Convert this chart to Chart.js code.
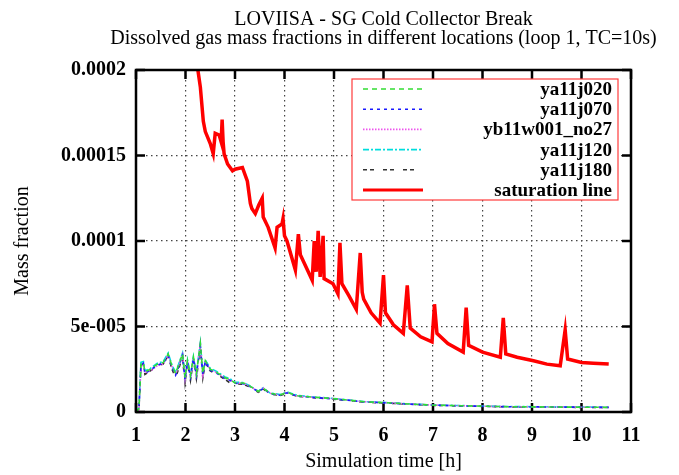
<!DOCTYPE html>
<html>
<head>
<meta charset="utf-8">
<script src="https://cdn.jsdelivr.net/npm/chart.js@4.4.1/dist/chart.umd.min.js"></script>
<style>
  html, body { margin: 0; padding: 0; background: #fff; }
  #wrap { width: 679px; height: 475px; }
</style>
</head>
<body>
<div id="wrap"><canvas id="chart" width="679" height="475"></canvas></div>
<script>
// Titles
const TITLE_LINES = [
  "LOVIISA - SG Cold Collector Break",
  "Dissolved gas mass fractions in different locations (loop 1, TC=10s)",
];
const X_TITLE = "Simulation time [h]";
const Y_TITLE = "Mass fraction";

// Tick labels
const xTicks = [1, 2, 3, 4, 5, 6, 7, 8, 9, 10, 11];
const yTickValues = [0, 0.00005, 0.0001, 0.00015, 0.0002];
const yTickLabels = ["0", "5e-005", "0.0001", "0.00015", "0.0002"];

// Dissolved gas series share one time axis [h]
const timeMass = [
  1.00, 1.06, 1.10, 1.15, 1.18, 1.29, 1.43, 1.55, 1.65, 1.72, 1.80, 1.94, 1.99,
  2.04, 2.10, 2.16, 2.22, 2.30, 2.35, 2.40, 2.50, 2.64, 2.80, 2.90, 3.00, 3.17,
  3.31, 3.47, 3.57, 3.70, 3.91, 4.05, 4.26, 4.58, 4.92, 5.27, 5.60, 6.00, 6.50,
  7.00, 7.50, 8.00, 8.50, 9.00, 9.50, 10.00, 10.55,
];
const ya11j020 = [
  0, 0.0000020, 0.0000280, 0.0000290, 0.0000235, 0.0000250, 0.0000280, 0.0000290,
  0.0000340, 0.0000275, 0.0000225, 0.0000340, 0.0000200, 0.0000300, 0.0000215,
  0.0000320, 0.0000225, 0.0000400, 0.0000225, 0.0000300, 0.0000250, 0.0000230,
  0.0000200, 0.0000190, 0.0000170, 0.0000170, 0.0000150, 0.0000120, 0.0000140,
  0.0000110, 0.0000100, 0.0000115, 0.0000095, 0.0000087, 0.0000080, 0.0000070,
  0.0000060, 0.0000055, 0.0000047, 0.0000040, 0.0000037, 0.0000034, 0.0000031,
  0.0000030, 0.0000029, 0.0000028, 0.0000027,
];
const ya11j070 = [
  0, 0.0000030, 0.0000270, 0.0000285, 0.0000225, 0.0000245, 0.0000275, 0.0000285,
  0.0000330, 0.0000265, 0.0000215, 0.0000330, 0.0000190, 0.0000290, 0.0000205,
  0.0000310, 0.0000215, 0.0000390, 0.0000215, 0.0000295, 0.0000245, 0.0000225,
  0.0000195, 0.0000185, 0.0000168, 0.0000165, 0.0000148, 0.0000118, 0.0000138,
  0.0000108, 0.0000098, 0.0000112, 0.0000093, 0.0000085, 0.0000078, 0.0000069,
  0.0000059, 0.0000054, 0.0000046, 0.0000040, 0.0000036, 0.0000033, 0.0000031,
  0.0000030, 0.0000029, 0.0000028, 0.0000027,
];
const yb11w001_no27 = [
  0, 0.0000010, 0.0000260, 0.0000280, 0.0000230, 0.0000240, 0.0000270, 0.0000280,
  0.0000335, 0.0000270, 0.0000220, 0.0000335, 0.0000195, 0.0000295, 0.0000210,
  0.0000315, 0.0000220, 0.0000395, 0.0000220, 0.0000298, 0.0000248, 0.0000228,
  0.0000198, 0.0000188, 0.0000170, 0.0000168, 0.0000150, 0.0000120, 0.0000140,
  0.0000110, 0.0000100, 0.0000114, 0.0000094, 0.0000086, 0.0000079, 0.0000070,
  0.0000060, 0.0000055, 0.0000047, 0.0000041, 0.0000037, 0.0000034, 0.0000031,
  0.0000030, 0.0000029, 0.0000028, 0.0000027,
];
const ya11j120 = [
  0, 0.0000025, 0.0000290, 0.0000295, 0.0000240, 0.0000255, 0.0000285, 0.0000295,
  0.0000345, 0.0000280, 0.0000230, 0.0000345, 0.0000205, 0.0000305, 0.0000220,
  0.0000325, 0.0000230, 0.0000405, 0.0000230, 0.0000305, 0.0000255, 0.0000235,
  0.0000205, 0.0000195, 0.0000175, 0.0000172, 0.0000152, 0.0000122, 0.0000142,
  0.0000112, 0.0000102, 0.0000117, 0.0000097, 0.0000088, 0.0000081, 0.0000071,
  0.0000061, 0.0000056, 0.0000048, 0.0000041, 0.0000038, 0.0000035, 0.0000032,
  0.0000031, 0.0000030, 0.0000029, 0.0000028,
];
const ya11j180 = [
  0, 0.0000015, 0.0000275, 0.0000280, 0.0000220, 0.0000240, 0.0000270, 0.0000280,
  0.0000330, 0.0000255, 0.0000200, 0.0000320, 0.0000170, 0.0000285, 0.0000185,
  0.0000305, 0.0000195, 0.0000380, 0.0000200, 0.0000290, 0.0000240, 0.0000220,
  0.0000190, 0.0000170, 0.0000165, 0.0000162, 0.0000145, 0.0000115, 0.0000135,
  0.0000105, 0.0000097, 0.0000110, 0.0000092, 0.0000084, 0.0000077, 0.0000068,
  0.0000058, 0.0000053, 0.0000046, 0.0000039, 0.0000036, 0.0000033, 0.0000030,
  0.0000029, 0.0000028, 0.0000027, 0.0000026,
];

// Saturation line
const timeSat = [
  2.20, 2.30, 2.36, 2.40, 2.50, 2.56, 2.60, 2.68, 2.72, 2.74, 2.76, 2.78, 2.85,
  2.95, 3.00, 3.15, 3.25, 3.31, 3.34, 3.41, 3.48, 3.55, 3.57, 3.67, 3.81, 3.85,
  3.95, 3.97, 4.00, 4.05, 4.22, 4.28, 4.32, 4.56, 4.60, 4.64, 4.68, 4.72, 4.78,
  4.80, 4.98, 5.08, 5.12, 5.16, 5.30, 5.45, 5.53, 5.57, 5.60, 5.75, 5.93, 6.00,
  6.04, 6.20, 6.40, 6.48, 6.54, 6.75, 6.98, 7.03, 7.08, 7.30, 7.61, 7.67, 7.72,
  8.00, 8.36, 8.42, 8.47, 8.70, 9.03, 9.30, 9.57, 9.67, 9.72, 10.00, 10.24, 10.55,
];
const saturation = [
  0.000210, 0.000190, 0.000170, 0.000164, 0.000157, 0.000151, 0.000163, 0.000162,
  0.000158, 0.000171, 0.000158, 0.000151, 0.000145, 0.000141, 0.000142, 0.000143,
  0.000135, 0.000122, 0.000119, 0.000116, 0.000121, 0.000125, 0.000114, 0.000108,
  0.000096, 0.000108, 0.000110, 0.000113, 0.000103, 0.000100, 0.000083, 0.000104,
  0.000092, 0.000077, 0.000100, 0.000082, 0.000106, 0.000079, 0.000103, 0.000078,
  0.000075, 0.000069, 0.000099, 0.000075, 0.000068, 0.000060, 0.000093, 0.000070,
  0.000066, 0.000058, 0.000052, 0.000080, 0.000058, 0.000051, 0.000046, 0.000074,
  0.000049, 0.000044, 0.000041, 0.000063, 0.000046, 0.000040, 0.000035, 0.000061,
  0.000039, 0.000035, 0.000032, 0.000055, 0.000034, 0.000032, 0.000030, 0.000028,
  0.000027, 0.000048, 0.000031, 0.000029, 0.0000285, 0.000028,
];

const FONT = "'Liberation Serif', 'DejaVu Serif', serif";

function toPoints(xs, ys) {
  return xs.map((x, i) => ({ x: x, y: ys[i] }));
}

function massSet(label, values, color, dash, width) {
  return {
    label: label,
    data: toPoints(timeMass, values),
    borderColor: color,
    borderWidth: width,
    borderDash: dash,
    pointRadius: 0,
    fill: false,
    tension: 0,
  };
}

const datasets = [
  massSet("ya11j020", ya11j020, "#33dd33", [5, 4], 1.6),
  massSet("ya11j070", ya11j070, "#1a1aff", [3, 4], 1.6),
  massSet("yb11w001_no27", yb11w001_no27, "#ee55ee", [1.5, 1.5], 1.6),
  massSet("ya11j120", ya11j120, "#00dddd", [6, 2, 2, 2], 1.6),
  massSet("ya11j180", ya11j180, "#333333", [4, 3, 4, 9], 1.6),
  {
    label: "saturation line",
    data: toPoints(timeSat, saturation),
    borderColor: "#ff0000",
    borderWidth: 3.5,
    pointRadius: 0,
    fill: false,
    tension: 0,
  },
];

// gnuplot-style title, frame, inward ticks and boxed key
const framePlugin = {
  id: "frame",
  beforeDatasetsDraw(chart) {
    const { ctx, chartArea: a, scales } = chart;
    ctx.save();
    ctx.strokeStyle = "#000";
    ctx.lineWidth = 2.5;
    const tl = 9;
    ctx.beginPath();
    xTicks.forEach((v) => {
      const px = scales.x.getPixelForValue(v);
      ctx.moveTo(px, a.bottom);
      ctx.lineTo(px, a.bottom - tl);
      ctx.moveTo(px, a.top);
      ctx.lineTo(px, a.top + tl);
    });
    yTickValues.forEach((v) => {
      const py = scales.y.getPixelForValue(v);
      ctx.moveTo(a.left, py);
      ctx.lineTo(a.left + tl, py);
      ctx.moveTo(a.right, py);
      ctx.lineTo(a.right - tl, py);
    });
    ctx.stroke();

    // two-line title centred over the plot area
    ctx.fillStyle = "#000";
    ctx.font = "20px " + FONT;
    ctx.textAlign = "center";
    ctx.textBaseline = "alphabetic";
    const cx = (a.left + a.right) / 2;
    TITLE_LINES.forEach((line, i) => {
      ctx.fillText(line, cx, 25 + i * 18.5);
    });
    ctx.restore();
  },
  afterDatasetsDraw(chart) {
    const { ctx, chartArea: a } = chart;
    ctx.save();
    // key box
    const bx = a.right - 279, by = a.top + 9, bw = 266, bh = 121;
    ctx.fillStyle = "#fff";
    ctx.fillRect(bx, by, bw, bh);
    ctx.strokeStyle = "#ff3b3b";
    ctx.lineWidth = 1.2;
    ctx.strokeRect(bx, by, bw, bh);
    ctx.font = "bold 19px " + FONT;
    ctx.textAlign = "right";
    ctx.textBaseline = "middle";
    chart.data.datasets.forEach((ds, i) => {
      const y = by + 10 + i * 20.2;
      ctx.beginPath();
      ctx.strokeStyle = ds.borderColor;
      ctx.lineWidth = Math.min(ds.borderWidth, 3);
      ctx.setLineDash(ds.borderDash || []);
      ctx.moveTo(bx + 11, y);
      ctx.lineTo(bx + 71, y);
      ctx.stroke();
      ctx.setLineDash([]);
      ctx.fillStyle = "#000";
      ctx.fillText(ds.label, bx + 260, y + 1);
    });
    // frame
    ctx.strokeStyle = "#000";
    ctx.lineWidth = 2.5;
    ctx.strokeRect(a.left, a.top, a.right - a.left, a.bottom - a.top);
    ctx.restore();
  },
};

new Chart(document.getElementById("chart"), {
  type: "line",
  data: { datasets: datasets },
  options: {
    responsive: false,
    animation: false,
    layout: { padding: { left: 0, right: 48, top: 70, bottom: 0 } },
    plugins: {
      legend: { display: false },
      tooltip: { enabled: false },
      title: { display: false },
    },
    scales: {
      x: {
        type: "linear",
        min: 1,
        max: 11,
        afterFit: (s) => { s.height = 63; },
        afterBuildTicks: (s) => { s.ticks = xTicks.map((v) => ({ value: v })); },
        ticks: {
          color: "#000",
          font: { family: FONT, size: 20, weight: "bold" },
          padding: 12,
          maxRotation: 0,
          callback: (v) => String(v),
        },
        grid: {
          drawTicks: false,
          color: "#444",
          lineWidth: 1.2,
        },
        border: { display: false, dash: [1.5, 3.5] },
        title: {
          display: true,
          text: X_TITLE,
          color: "#000",
          font: { family: FONT, size: 20, weight: "normal", lineHeight: 1.2 },
          padding: { top: 0, bottom: 1 },
        },
      },
      y: {
        type: "linear",
        min: 0,
        max: 0.0002,
        afterFit: (s) => { s.width = 136; },
        afterBuildTicks: (s) => { s.ticks = yTickValues.map((v) => ({ value: v })); },
        ticks: {
          color: "#000",
          font: { family: FONT, size: 20, weight: "bold" },
          padding: 10,
          callback: (v) => yTickLabels[yTickValues.indexOf(v)],
        },
        grid: {
          drawTicks: false,
          color: "#444",
          lineWidth: 1.2,
        },
        border: { display: false, dash: [1.5, 3.5] },
        title: {
          display: true,
          text: Y_TITLE,
          color: "#000",
          font: { family: FONT, size: 20, weight: "normal", lineHeight: 1.2 },
          padding: { top: 11, bottom: 0 },
        },
      },
    },
  },
  plugins: [framePlugin],
});
</script>
</body>
</html>
